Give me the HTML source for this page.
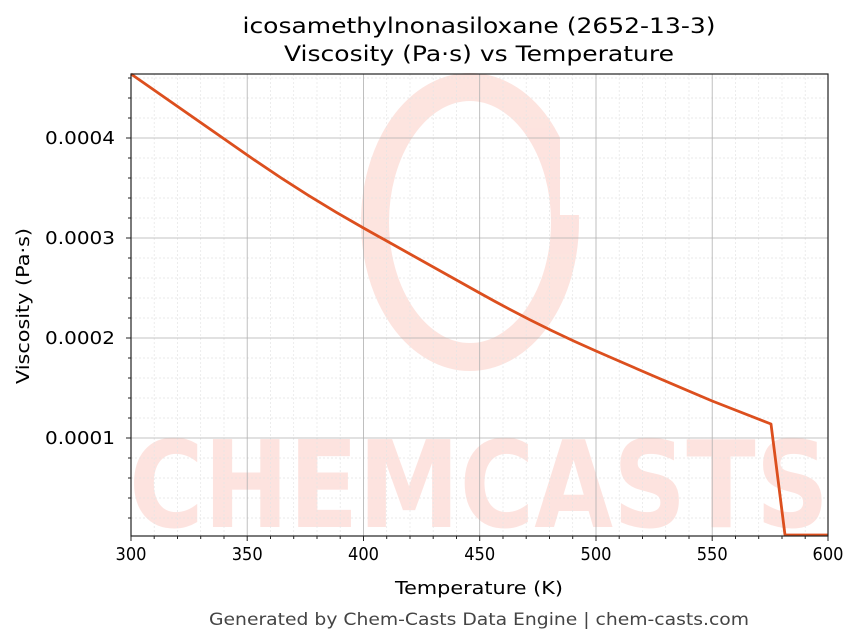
<!DOCTYPE html>
<html><head><meta charset="utf-8"><style>
body{margin:0;background:#fff;}
svg{display:block;font-family:"DejaVu Sans","Liberation Sans",sans-serif;}
</style></head><body>
<svg width="863" height="644" viewBox="0 0 863 644" xmlns="http://www.w3.org/2000/svg">
<rect width="863" height="644" fill="#fff"/>
<g opacity="0.5">
<ellipse cx="470" cy="222" rx="95" ry="135" fill="none" stroke="#fcc9c0" stroke-width="28"/>
<path d="M560 130 L600 130 L600 215 L560 215 Z" fill="#fff"/>
<text x="479" y="527" text-anchor="middle" font-size="120" font-weight="bold" fill="#fcc9c0" textLength="700" lengthAdjust="spacingAndGlyphs">CHEMCASTS</text>
</g>
<g stroke="#e4e4e4" stroke-width="0.7" stroke-dasharray="2,2">
<path d="M154.2 74V536M177.5 74V536M200.7 74V536M224 74V536M270.5 74V536M293.7 74V536M317 74V536M340.2 74V536M386.7 74V536M410 74V536M433.2 74V536M456.5 74V536M503 74V536M526.2 74V536M549.5 74V536M572.7 74V536M619.2 74V536M642.5 74V536M665.7 74V536M689 74V536M735.5 74V536M758.7 74V536M782 74V536M805.2 74V536"/>
<path d="M131 518H828M131 498H828M131 478H828M131 458H828M131 418H828M131 398H828M131 378H828M131 358H828M131 318H828M131 298H828M131 278H828M131 258H828M131 218H828M131 198H828M131 178H828M131 158H828M131 118H828M131 98H828M131 78H828"/>
</g>
<g stroke="#b0b0b0" stroke-width="0.8">
<path d="M247.2 74V536M363.5 74V536M479.7 74V536M596 74V536M712.2 74V536"/>
<path d="M131 438H828M131 338H828M131 238H828M131 138H828"/>
</g>
<path fill="none" stroke="#dc4f1e" stroke-width="2.8" stroke-linejoin="round" d="M131,74 Q189.1,114.5 247.2,155 T363.5,228 T479.7,293 T596,351 T712.2,401 L771,424 L785,535 L828,535"/>
<rect x="131" y="74" width="697" height="462" fill="none" stroke="#222" stroke-width="1.2"/>
<g stroke="#222" stroke-width="1">
<path d="M131 536v5M247.2 536v5M363.5 536v5M479.7 536v5M596 536v5M712.2 536v5M828 536v5"/>
<path d="M154.2 536v3M177.5 536v3M200.7 536v3M224 536v3M270.5 536v3M293.7 536v3M317 536v3M340.2 536v3M386.7 536v3M410 536v3M433.2 536v3M456.5 536v3M503 536v3M526.2 536v3M549.5 536v3M572.7 536v3M619.2 536v3M642.5 536v3M665.7 536v3M689 536v3M735.5 536v3M758.7 536v3M782 536v3M805.2 536v3"/>
<path d="M131 438h-5M131 338h-5M131 238h-5M131 138h-5"/>
<path d="M131 518h-3M131 498h-3M131 478h-3M131 458h-3M131 418h-3M131 398h-3M131 378h-3M131 358h-3M131 318h-3M131 298h-3M131 278h-3M131 258h-3M131 218h-3M131 198h-3M131 178h-3M131 158h-3M131 118h-3M131 98h-3M131 78h-3"/>
</g>
<g font-size="18" fill="#000" text-anchor="middle">
<text x="131" y="560" textLength="31" lengthAdjust="spacingAndGlyphs">300</text><text x="247.2" y="560" textLength="31" lengthAdjust="spacingAndGlyphs">350</text><text x="363.5" y="560" textLength="31" lengthAdjust="spacingAndGlyphs">400</text><text x="479.7" y="560" textLength="31" lengthAdjust="spacingAndGlyphs">450</text><text x="596" y="560" textLength="31" lengthAdjust="spacingAndGlyphs">500</text><text x="712.2" y="560" textLength="31" lengthAdjust="spacingAndGlyphs">550</text><text x="828" y="560" textLength="31" lengthAdjust="spacingAndGlyphs">600</text>
</g>
<g font-size="18" fill="#000" text-anchor="end">
<text x="115" y="144" textLength="70" lengthAdjust="spacingAndGlyphs">0.0004</text>
<text x="115" y="244" textLength="70" lengthAdjust="spacingAndGlyphs">0.0003</text>
<text x="115" y="344" textLength="70" lengthAdjust="spacingAndGlyphs">0.0002</text>
<text x="115" y="444" textLength="70" lengthAdjust="spacingAndGlyphs">0.0001</text>
</g>
<text x="479" y="594" font-size="18" text-anchor="middle" textLength="168" lengthAdjust="spacingAndGlyphs">Temperature (K)</text>
<text transform="translate(29,306) rotate(-90)" font-size="18" text-anchor="middle" textLength="156" lengthAdjust="spacingAndGlyphs">Viscosity (Pa·s)</text>
<text x="479" y="33" font-size="21.5" text-anchor="middle" textLength="473" lengthAdjust="spacingAndGlyphs">icosamethylnonasiloxane (2652-13-3)</text>
<text x="479" y="61" font-size="21.5" text-anchor="middle" textLength="390" lengthAdjust="spacingAndGlyphs">Viscosity (Pa·s) vs Temperature</text>
<text x="479" y="625" font-size="16.5" fill="#444" text-anchor="middle" textLength="540" lengthAdjust="spacingAndGlyphs">Generated by Chem-Casts Data Engine | chem-casts.com</text>
</svg>
</body></html>
